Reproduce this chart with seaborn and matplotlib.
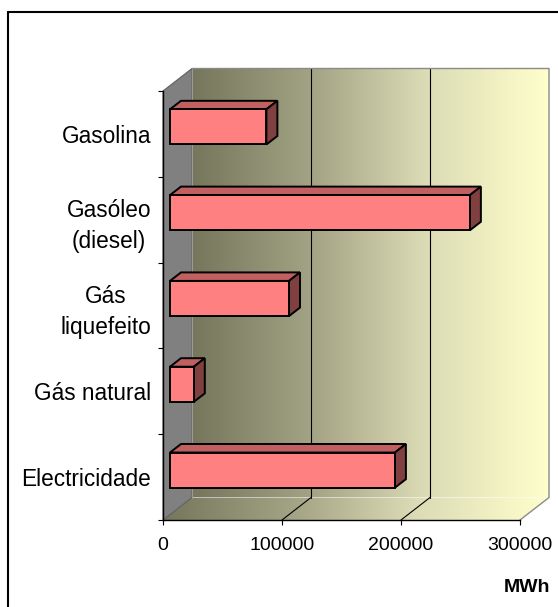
import numpy as np
import pandas as pd
import matplotlib
matplotlib.use("Agg")
import matplotlib.pyplot as plt
import seaborn as sns
from matplotlib.patches import Polygon
from matplotlib.lines import Line2D
from matplotlib.colors import LinearSegmentedColormap
from matplotlib.transforms import offset_copy

# ---------------- data ----------------
categories = ["Gasolina", "Gasóleo\n(diesel)", "Gás\nliquefeito", "Gás natural", "Electricidade"]
values = [81000, 252000, 100000, 20000, 189000]
xticks = [0, 100000, 200000, 300000]
xtick_labels = ["0", "100000", "200000", "300000"]
unit_label = "MWh"

# ---------------- style ----------------
W, H, DPI = 558, 607, 100
sns.set_theme(style="white")
plt.rcParams["font.family"] = ["Liberation Sans", "DejaVu Sans"]
plt.rcParams["text.color"] = "black"
plt.rcParams["xtick.color"] = "black"
plt.rcParams["ytick.color"] = "black"

fig = plt.figure(figsize=(W / DPI, H / DPI), dpi=DPI)
fig.patch.set_facecolor("white")

# front plane of the 3-D box (image pixel coords)
L, R, T, B = 163, 520, 91, 520
ax = fig.add_axes([L / W, (H - B) / H, (R - L) / W, (B - T) / H], zorder=2)
ax.patch.set_visible(False)

deco = fig.add_axes([0, 0, 1, 1], zorder=1)
deco.set_xlim(0, W)
deco.set_ylim(0, H)
deco.axis("off")

df = pd.DataFrame({"category": categories, "MWh": values})
sns.barplot(data=df, x="MWh", y="category", orient="h", color="#FF8080",
            saturation=1, width=0.41, edgecolor="black", linewidth=1.4, ax=ax)
ax.set_xlim(0, 300000)
ax.set_ylim(4.5, -0.5)

# depth geometry (display pixels)
WX, WY = 29, 22.5      # full depth of box
FX, FY = 7, 7          # front face of bars offset
DX, DY = 11, 8.5       # depth of bars

front = offset_copy(ax.transData, fig=fig, x=FX, y=FY, units="dots")
for p in ax.patches:
    p.set_transform(front)
    p.set_clip_on(False)
    p.set_zorder(3)
    x0, y0 = p.get_x(), p.get_y()
    w, h = p.get_width(), p.get_height()
    (dx0, dy0), (dx1, dy1) = ax.transData.transform([(x0, y0), (x0 + w, y0 + h)])
    xl, xr = min(dx0, dx1) + FX, max(dx0, dx1) + FX
    yb, yt = min(dy0, dy1) + FY, max(dy0, dy1) + FY
    top = Polygon([(xl, yt), (xr, yt), (xr + DX, yt + DY), (xl + DX, yt + DY)],
                  closed=True, facecolor="#C06060", edgecolor="black", lw=1.4, zorder=5)
    side = Polygon([(xr, yb), (xr, yt), (xr + DX, yt + DY), (xr + DX, yb + DY)],
                   closed=True, facecolor="#804040", edgecolor="black", lw=1.4, zorder=5)
    deco.add_patch(top)
    deco.add_patch(side)

# walls
cmap = LinearSegmentedColormap.from_list(
    "wall", [(0.0, "#76765c"), (0.33, "#a2a284"), (0.66, "#dcdcb6"), (1.0, "#ffffcc")])
grad = np.linspace(0, 1, 256).reshape(1, -1)

(fx0, fy0) = ax.transData.transform((0, 4.5))
(fx1, fy1) = ax.transData.transform((300000, -0.5))
deco.imshow(grad, cmap=cmap, aspect="auto",
            extent=[fx0 + WX, fx1 + WX, fy0 + WY, fy1 + WY], zorder=0)
floor = Polygon([(fx0, fy0), (fx1, fy0), (fx1 + WX, fy0 + WY), (fx0 + WX, fy0 + WY)],
                closed=True, facecolor="none", edgecolor="none")
deco.add_patch(floor)
im = deco.imshow(grad, cmap=cmap, aspect="auto",
                 extent=[fx0, fx1 + WX, fy0, fy0 + WY], zorder=0)
im.set_clip_path(floor)
sidewall = Polygon([(fx0, fy0), (fx0, fy1), (fx0 + WX, fy1 + WY), (fx0 + WX, fy0 + WY)],
                   closed=True, facecolor="#808080", edgecolor="#606060", lw=0.8, zorder=1)
deco.add_patch(sidewall)
deco.add_line(Line2D([fx0 + WX, fx1 + WX, fx1 + WX, fx1], [fy1 + WY, fy1 + WY, fy0 + WY, fy0],
                     color="#8a8a8a", lw=1.0, zorder=1))
deco.add_line(Line2D([fx0 + WX, fx0 + WX], [fy0 + WY, fy1 + WY], color="#9a9a9a", lw=0.8, zorder=1))

for v in xticks[1:-1]:
    gx, _ = ax.transData.transform((v, 0))
    deco.add_line(Line2D([gx + WX, gx + WX], [fy0 + WY, fy1 + WY], color="black", lw=0.8, zorder=1))
    deco.add_line(Line2D([gx, gx + WX], [fy0, fy0 + WY], color="black", lw=0.8, zorder=1))

# axes styling
for s in ["top", "right"]:
    ax.spines[s].set_visible(False)
for s in ["left", "bottom"]:
    ax.spines[s].set_color("black")
    ax.spines[s].set_linewidth(1.0)
    ax.spines[s].set_zorder(6)

ax.set_xticks(xticks, xtick_labels)
ax.tick_params(axis="x", direction="out", length=3.6, width=0.8, color="black",
               labelcolor="black", labelsize=14, pad=9, bottom=True)
ax.set_yticks(np.arange(-0.5, 5.0, 1.0), [""] * 6)
ax.set_yticks(range(len(categories)), categories, minor=True)
ax.tick_params(axis="y", which="major", direction="out", length=3.6, width=0.8,
               color="black", left=True)
ax.tick_params(axis="y", which="minor", length=0, labelsize=16.3, labelcolor="black",
               pad=8.5, left=True)
for t in ax.get_yticklabels(minor=True):
    t.set_multialignment("center")
    t.set_linespacing(1.45)
ax.set_xlabel("")
ax.set_ylabel("")
ax.grid(False)

fig.text(550 / W, (H - 588) / H, unit_label, ha="right", va="center",
         fontsize=14, fontweight="bold", color="black")

# chart frame (top & left visible)
deco.add_line(Line2D([8, W + 5], [H - 12, H - 12], color="black", lw=1.5, zorder=6))
deco.add_line(Line2D([8, 8], [-5, H - 12], color="black", lw=1.5, zorder=6))

fig.savefig("out.png", dpi=DPI, facecolor="white")
